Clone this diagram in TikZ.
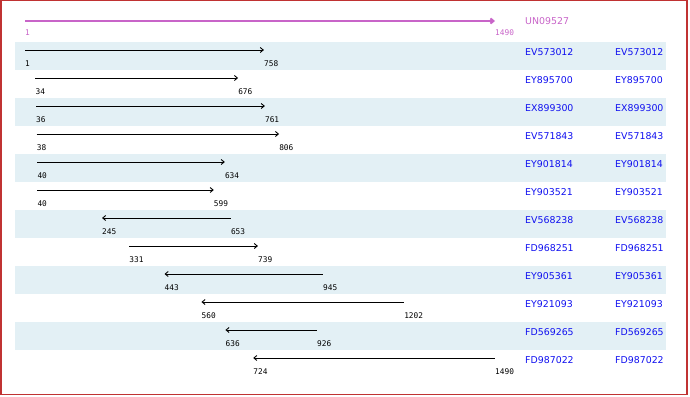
\documentclass[tikz,border=0pt]{standalone}
\usepackage{fontspec}
\setmainfont{DejaVu Sans}
\newfontfamily\nummono{DejaVu Sans Mono}
\usepackage{tikz}
\usetikzlibrary{arrows.meta}
\definecolor{bandblue}{HTML}{E3F0F5}
\definecolor{framered}{HTML}{C03232}
\definecolor{querypink}{HTML}{C864C8}
\definecolor{hitblue}{HTML}{1010F0}

\begin{document}
\begin{tikzpicture}[x=1pt,y=-1pt,
  numlbl/.style={anchor=west, inner sep=0pt, font=\nummono\fontsize{7.8}{8}\selectfont},
  hitname/.style={anchor=west, inner sep=0pt, text=hitblue, font=\fontsize{9.4}{11}\selectfont},
  fwd/.style={->, >={Straight Barb[length=3pt,width=5pt]}},
  rev/.style={<-, >={Straight Barb[length=3pt,width=5pt]}}]
\useasboundingbox (0,0) rectangle (690,396);
\draw[framered, line width=1.5pt] (0.75,0.75) rectangle (687,394.5);

% shaded rows
\foreach \i in {0,2,...,10}
  \fill[bandblue] (15,42+28*\i) rectangle (666,70+28*\i);

% query sequence
\coordinate (qs) at (25,21);
\coordinate (qe) at (495,21);
\draw[querypink, line width=2pt, ->, >={Straight Barb[length=3pt,width=5pt]}] (qs) -- (qe);
\node[numlbl, text=querypink] (qsl) at (25,33) {1};
\node[numlbl, text=querypink] (qel) at (495,33) {1490};
\node[hitname, text=querypink] (qname) at (525,21) {UN09527};

% hits
\foreach \i/\nm/\a/\b/\dir in {0/EV573012/1/758/fwd, 1/EY895700/34/676/fwd,
    2/EX899300/36/761/fwd, 3/EV571843/38/806/fwd, 4/EY901814/40/634/fwd,
    5/EY903521/40/599/fwd, 6/EV568238/245/653/rev, 7/FD968251/331/739/fwd,
    8/EY905361/443/945/rev, 9/EY921093/560/1202/rev, 10/FD569265/636/926/rev,
    11/FD987022/724/1490/rev} {
  \pgfmathsetmacro{\rowtop}{42+28*\i}
  \pgfmathsetmacro{\xa}{25+(\a-1)*0.315648}
  \pgfmathsetmacro{\xb}{25+(\b-1)*0.315648}
  \coordinate (s\i) at (\xa,\rowtop+8);
  \coordinate (e\i) at (\xb,\rowtop+8);
  \draw[\dir, line width=0.9pt] (s\i) -- (e\i);
  \node[numlbl] (sl\i) at (\xa,\rowtop+22) {\a};
  \node[numlbl] (el\i) at (\xb,\rowtop+22) {\b};
  \node[hitname] (h\i) at (525,\rowtop+10) {\nm};
  \node[hitname] (hh\i) at (615,\rowtop+10) {\nm};
}
\end{tikzpicture}
\end{document}
